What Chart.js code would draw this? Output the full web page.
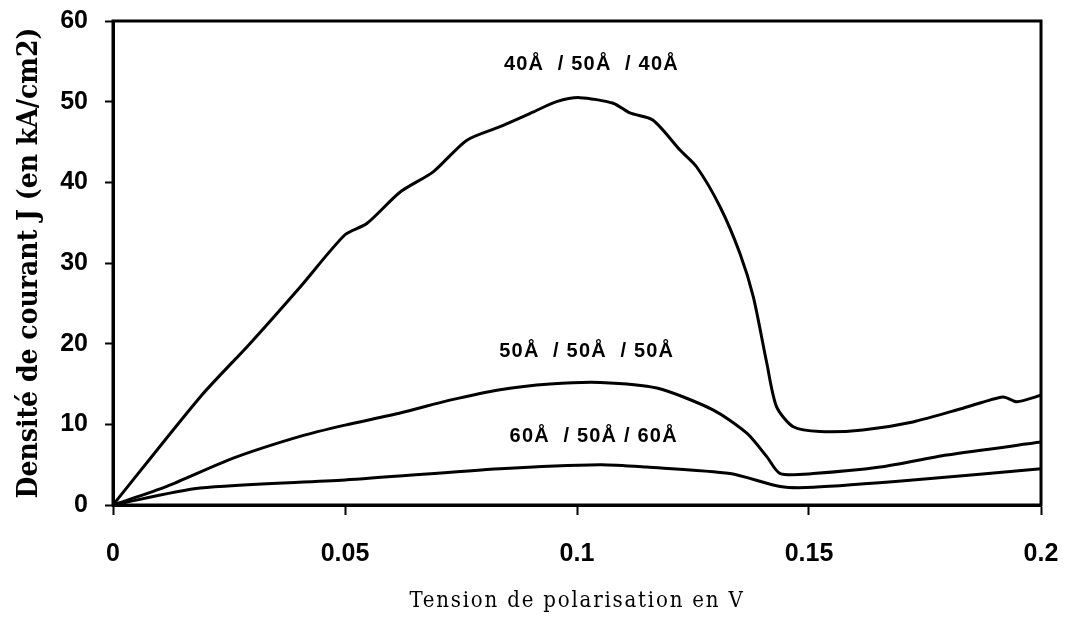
<!DOCTYPE html>
<html>
<head>
<meta charset="utf-8">
<script src="https://cdn.jsdelivr.net/npm/chart.js@4/dist/chart.umd.min.js"></script>
<style>
  html, body { margin: 0; padding: 0; background: #fff; }
  #wrap { width: 1079px; height: 624px; }
</style>
</head>
<body>
<div id="wrap"><canvas id="chart" width="1079" height="624"></canvas></div>
<script>
// values (x in V, y in kA/cm2)
const x1 = [0, 0.0188, 0.0295, 0.0403, 0.05, 0.0547, 0.0619, 0.069, 0.0762, 0.0834, 0.0905, 0.0956, 0.1006,
  0.1078, 0.1114, 0.1164, 0.1222, 0.1258, 0.1308, 0.1351, 0.138, 0.1409, 0.143, 0.1466, 0.1524, 0.1616,
  0.1724, 0.1832, 0.1918, 0.1948, 0.2];
const y1 = [0, 13.4, 20.0, 27.0, 33.5, 34.9, 38.8, 41.3, 45.2, 46.9, 48.7, 50.0, 50.5,
  49.8, 48.6, 47.7, 44.0, 41.9, 37.0, 31.2, 25.8, 17.6, 12.2, 9.7, 9.1, 9.3,
  10.3, 12.0, 13.4, 12.8, 13.6];

const x2 = [0, 0.0116, 0.0259, 0.0403, 0.05, 0.0619, 0.0726, 0.0834, 0.0942, 0.105, 0.1172, 0.1293,
  0.1366, 0.1409, 0.1438, 0.1509, 0.1653, 0.1797, 0.2];
const y2 = [0, 2.3, 5.8, 8.5, 9.9, 11.4, 13.0, 14.3, 15.0, 15.2, 14.5, 11.8,
  8.9, 6.0, 3.9, 3.9, 4.7, 6.2, 7.8];

const x3 = [0, 0.0188, 0.05, 0.0834, 0.105, 0.115, 0.133, 0.1438, 0.1509, 0.1724, 0.2];
const y3 = [0, 2.1, 3.1, 4.5, 5.0, 4.7, 3.9, 2.3, 2.2, 3.1, 4.5];

const seriesNames = ['40Å  / 50Å  / 40Å', '50Å  / 50Å  / 50Å', '60Å  / 50Å / 60Å'];
const labelX = [0.1031, 0.1021, 0.1036];
const labelY = [53.9, 18.3, 7.8];

const xTicks = [0, 0.05, 0.1, 0.15, 0.2];
const yTicks = [0, 10, 20, 30, 40, 50, 60];

const xTitle = 'Tension de polarisation en V';
const yTitle = 'Densité de courant J (en kA/cm2)';

function pts(xs, ys) {
  return xs.map((x, i) => ({ x: x, y: ys[i] }));
}

function noOverflow(s) {
  s.paddingTop = 0;
  s.paddingBottom = 0;
  s.paddingLeft = 0;
  s.paddingRight = 0;
}

const lineStyle = {
  borderColor: '#000',
  borderWidth: 3,
  pointRadius: 0,
  tension: 0.25,
  fill: false
};

// frame, curve captions and axis titles
const decor = {
  id: 'decor',
  afterDraw(chart) {
    const ctx = chart.ctx;
    const a = chart.chartArea;
    ctx.save();
    ctx.strokeStyle = '#000';
    ctx.lineWidth = 3;
    ctx.strokeRect(a.left, a.top, a.right - a.left, a.bottom - a.top);

    ctx.fillStyle = '#000';
    ctx.font = 'bold 20px "Liberation Sans", Arial, sans-serif';
    ctx.letterSpacing = '1.2px';
    ctx.textAlign = 'center';
    ctx.textBaseline = 'alphabetic';
    seriesNames.forEach((name, i) => {
      const px = chart.scales.x.getPixelForValue(labelX[i]);
      const py = chart.scales.y.getPixelForValue(labelY[i]);
      ctx.fillText(name, px, py);
    });

    // x title
    ctx.font = '22px "DejaVu Serif Condensed", "DejaVu Serif", serif';
    ctx.letterSpacing = '1.8px';
    ctx.fillText(xTitle, (a.left + a.right) / 2, 607);

    // y title, rotated
    ctx.font = 'bold 28px "DejaVu Serif Condensed", "DejaVu Serif", serif';
    ctx.letterSpacing = '0px';
    ctx.translate(37, (a.top + a.bottom) / 2);
    ctx.rotate(-Math.PI / 2);
    ctx.fillText(yTitle, 0, 0);
    ctx.restore();
  }
};

new Chart(document.getElementById('chart'), {
  type: 'line',
  data: {
    datasets: [
      Object.assign({ label: seriesNames[0], data: pts(x1, y1) }, lineStyle),
      Object.assign({ label: seriesNames[1], data: pts(x2, y2) }, lineStyle),
      Object.assign({ label: seriesNames[2], data: pts(x3, y3) }, lineStyle)
    ]
  },
  options: {
    responsive: false,
    animation: false,
    devicePixelRatio: 1,
    layout: { padding: { left: 0, right: 38, top: 21, bottom: 0 } },
    plugins: { legend: { display: false }, tooltip: { enabled: false } },
    scales: {
      x: {
        type: 'linear',
        min: 0,
        max: 0.2,
        afterBuildTicks: s => { s.ticks = xTicks.map(v => ({ value: v })); },
        afterFit: s => { s.height = 119; noOverflow(s); },
        grid: { drawOnChartArea: false, drawTicks: true, tickLength: 10, tickWidth: 2, color: '#000' },
        border: { display: true, color: '#000', width: 3 },
        ticks: {
          color: '#000',
          padding: 24,
          maxRotation: 0,
          font: { family: '"Liberation Sans", Arial, sans-serif', size: 25, weight: 'bold' },
          callback: v => String(v)
        }
      },
      y: {
        type: 'linear',
        min: 0,
        max: 60,
        afterBuildTicks: s => { s.ticks = yTicks.map(v => ({ value: v })); },
        afterFit: s => { s.width = 113; noOverflow(s); },
        grid: { drawOnChartArea: false, drawTicks: true, tickLength: 8, tickWidth: 2, color: '#000' },
        border: { display: true, color: '#000', width: 3 },
        ticks: {
          color: '#000',
          padding: 17,
          font: { family: '"Liberation Sans", Arial, sans-serif', size: 25, weight: 'bold' }
        }
      }
    }
  },
  plugins: [decor]
});
</script>
</body>
</html>
